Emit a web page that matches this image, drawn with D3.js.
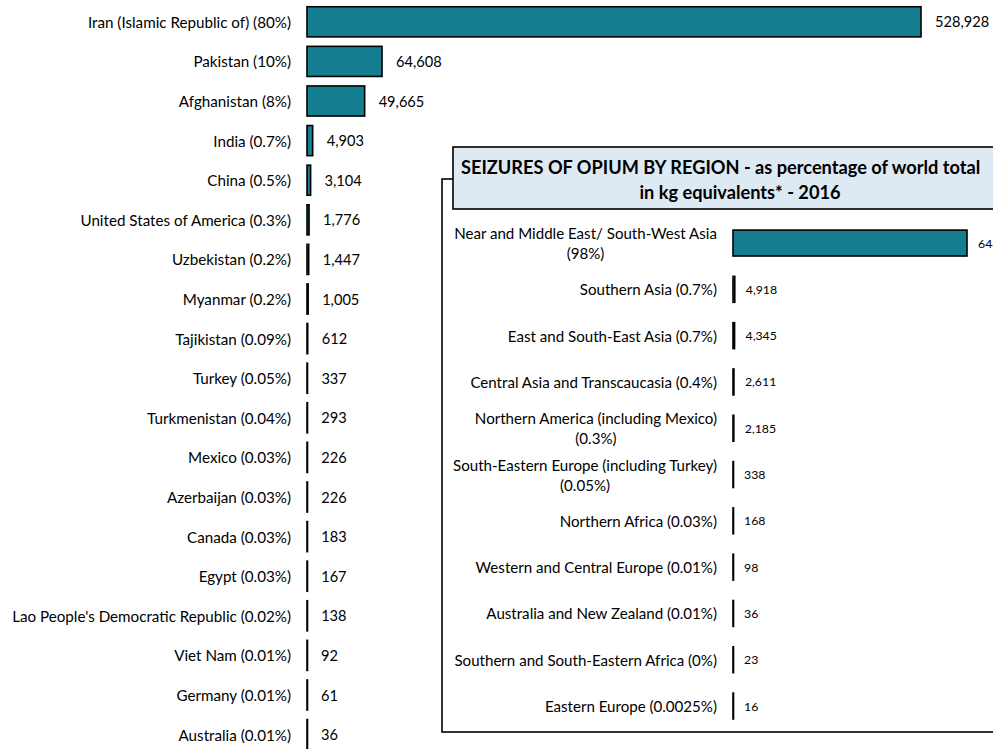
<!DOCTYPE html>
<html>
<head>
<meta charset="utf-8">
<script src="https://cdn.jsdelivr.net/npm/d3@7"></script>
<style>
  html, body { margin: 0; padding: 0; background: #fff; overflow: hidden; }
  svg { display: block; font-family: Lato, "Open Sans", sans-serif; }
</style>
</head>
<body>
<svg id="chart" width="993" height="749"></svg>
<script>
// Main chart: seizures of opium by country (kg equivalents), 2016
const countries = [
  "Iran (Islamic Republic of) (80%)", "Pakistan (10%)", "Afghanistan (8%)",
  "India (0.7%)", "China (0.5%)", "United States of America (0.3%)",
  "Uzbekistan (0.2%)", "Myanmar (0.2%)", "Tajikistan (0.09%)", "Turkey (0.05%)",
  "Turkmenistan (0.04%)", "Mexico (0.03%)", "Azerbaijan (0.03%)", "Canada (0.03%)",
  "Egypt (0.03%)", "Lao People's Democratic Republic (0.02%)", "Viet Nam (0.01%)",
  "Germany (0.01%)", "Australia (0.01%)"
];
const countryValues = [528928, 64608, 49665, 4903, 3104, 1776, 1447, 1005, 612, 337,
  293, 226, 226, 183, 167, 138, 92, 61, 36];

// Inset: seizures of opium by region
const regionLines = [
  ["Near and Middle East/ South-West Asia", "(98%)"],
  ["Southern Asia (0.7%)"],
  ["East and South-East Asia (0.7%)"],
  ["Central Asia and Transcaucasia (0.4%)"],
  ["Northern America (including Mexico)", "(0.3%)"],
  ["South-Eastern Europe (including Turkey)", "(0.05%)"],
  ["Northern Africa (0.03%)"],
  ["Western and Central Europe (0.01%)"],
  ["Australia and New Zealand (0.01%)"],
  ["Southern and South-Eastern Africa (0%)"],
  ["Eastern Europe (0.0025%)"]
];
const regionValues = [648000, 4918, 4345, 2611, 2185, 338, 168, 98, 36, 23, 16];
const insetTitle = ["SEIZURES OF OPIUM BY REGION - as percentage of world total",
                    "in kg equivalents* - 2016"];

const barColor = "#157e90";
const fmt = d3.format(",");
const svg = d3.select("#chart");

// ---------- main chart ----------
const mainData = countries.map((c, i) => ({ name: c, value: countryValues[i] }));
const x = d3.scaleLinear().domain([0, 528928]).range([307, 921]);
const y = d3.scaleBand().domain(countries).range([2, 2 + 19 * 39.6])
  .paddingInner(0.24).paddingOuter(0.12);

const main = svg.append("g");
main.selectAll("rect").data(mainData).join("rect")
  .attr("x", x(0))
  .attr("y", d => y(d.name))
  .attr("width", d => Math.max(0.5, x(d.value) - x(0)))
  .attr("height", y.bandwidth())
  .attr("fill", barColor)
  .attr("stroke", "#000")
  .attr("stroke-width", 1.6);

main.selectAll("text.cat").data(mainData).join("text")
  .attr("class", "cat")
  .attr("x", 291)
  .attr("y", d => y(d.name) + y.bandwidth() / 2)
  .attr("text-anchor", "end")
  .attr("dominant-baseline", "central")
  .attr("font-size", 15.2)
  .attr("fill", "#000")
  .text(d => d.name);

main.selectAll("text.val").data(mainData).join("text")
  .attr("class", "val")
  .attr("x", d => x(d.value) + 14)
  .attr("y", d => y(d.name) + y.bandwidth() / 2)
  .attr("dominant-baseline", "central")
  .attr("font-size", 14.6)
  .attr("fill", "#000")
  .text(d => fmt(d.value));

// ---------- inset ----------
const inset = svg.append("g");
inset.append("rect")
  .attr("x", 442).attr("y", 179).attr("width", 700).attr("height", 553)
  .attr("fill", "#fff").attr("stroke", "#000").attr("stroke-width", 1.6);

inset.append("rect")
  .attr("x", 453).attr("y", 147).attr("width", 700).attr("height", 62)
  .attr("fill", "#dde9f3").attr("stroke", "#000").attr("stroke-width", 1.6);

inset.append("text")
  .attr("x", 461).attr("y", 167)
  .attr("dominant-baseline", "central")
  .attr("font-size", 18.2).attr("font-weight", "bold")
  .text(insetTitle[0]);
inset.append("text")
  .attr("x", 740).attr("y", 192)
  .attr("text-anchor", "middle")
  .attr("dominant-baseline", "central")
  .attr("font-size", 18.2).attr("font-weight", "bold")
  .text(insetTitle[1]);

const regionData = regionLines.map((l, i) => ({ key: l.join(" "), lines: l, value: regionValues[i] }));
const xr = d3.scaleLinear().domain([0, 648000]).range([733, 967]);
const yr = d3.scaleBand().domain(regionData.map(d => d.key)).range([219.9, 219.9 + 11 * 46.3])
  .paddingInner(0.44).paddingOuter(0.22);

inset.selectAll("rect.bar").data(regionData).join("rect")
  .attr("class", "bar")
  .attr("x", xr(0))
  .attr("y", d => yr(d.key))
  .attr("width", d => Math.max(0.5, xr(d.value) - xr(0)))
  .attr("height", yr.bandwidth())
  .attr("fill", barColor)
  .attr("stroke", "#000")
  .attr("stroke-width", 1.6);

const labelRight = 717;
const labelSize = 15.1;
regionData.forEach(d => {
  const cy = yr(d.key) + yr.bandwidth() / 2;
  if (d.lines.length === 1) {
    inset.append("text")
      .attr("x", labelRight).attr("y", cy)
      .attr("text-anchor", "end").attr("dominant-baseline", "central")
      .attr("font-size", labelSize).text(d.lines[0]);
  } else {
    const t1 = inset.append("text")
      .attr("x", labelRight).attr("y", cy - 10)
      .attr("text-anchor", "end").attr("dominant-baseline", "central")
      .attr("font-size", labelSize).text(d.lines[0]);
    const w = t1.node().getComputedTextLength();
    inset.append("text")
      .attr("x", labelRight - w / 2).attr("y", cy + 10)
      .attr("text-anchor", "middle").attr("dominant-baseline", "central")
      .attr("font-size", labelSize).text(d.lines[1]);
  }
});

inset.selectAll("text.rval").data(regionData).join("text")
  .attr("class", "rval")
  .attr("x", d => xr(d.value) + 11)
  .attr("y", d => yr(d.key) + yr.bandwidth() / 2)
  .attr("dominant-baseline", "central")
  .attr("font-size", 12.3)
  .text(d => fmt(d.value));
</script>
</body>
</html>
